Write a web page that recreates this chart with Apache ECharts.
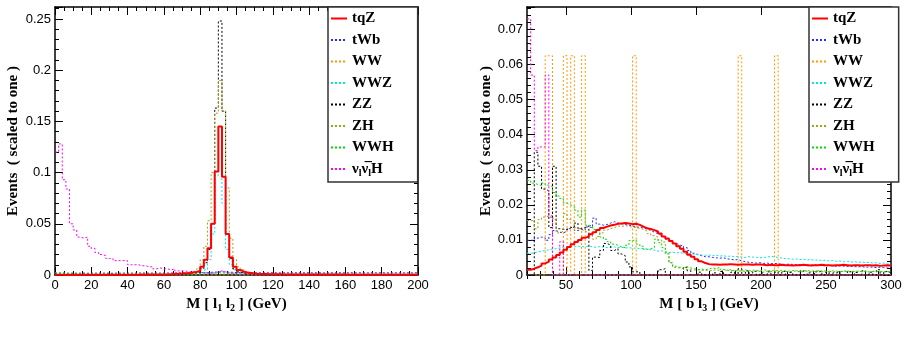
<!DOCTYPE html>
<html>
<head>
<meta charset="utf-8">
<title>tqZ kinematic distributions</title>
<script src="https://cdn.jsdelivr.net/npm/echarts@6/dist/echarts.min.js"></script>
<style>
    html, body { margin: 0; padding: 0; background: #fff; }
    #chart { width: 908px; height: 358px; }
</style>
</head>
<body>
<div id="chart"></div>
<script>

// Histogram binning
// ------------------------------

// left panel: M[l1 l2], 100 bins of 2 GeV from 0
var leftBinStart = 0;
var leftBinWidth = 2;
// right panel: M[b l3], 100 bins of 2.8 GeV from 20
var rightBinStart = 20;
var rightBinWidth = 2.8;

var seriesNames = ['tqZ', 'tWb', 'WW', 'WWZ', 'ZZ', 'ZH', 'WWH', 'nunuH'];

// tick labels
var leftYTicks = [0, 0.05, 0.1, 0.15, 0.2, 0.25];
var leftXTicks = [0, 20, 40, 60, 80, 100, 120, 140, 160, 180, 200];
var rightYTicks = [0, 0.01, 0.02, 0.03, 0.04, 0.05, 0.06, 0.07];
var rightXTicks = [50, 100, 150, 200, 250, 300];
var rightXMinorTicks = [20, 30, 40, 60, 70, 80, 90, 110, 120, 130, 140, 160, 170, 180, 190,
    210, 220, 230, 240, 260, 270, 280, 290];


// Left panel values  M[l1 l2]
// ------------------------------

var leftTqZ = [
    0.0003, 0.0003, 0.0003, 0.0003, 0.0003, 0.0003, 0.0003, 0.0003, 0.0003, 0.0003,
    0.0003, 0.0003, 0.0003, 0.0003, 0.0003, 0.0003, 0.0003, 0.0003, 0.0003, 0.0003,
    0.0003, 0.0003, 0.0003, 0.0004, 0.0003, 0.0004, 0.0004, 0.0005, 0.0005, 0.0005,
    0.0006, 0.0008, 0.001, 0.0012, 0.0014, 0.0017, 0.002, 0.0025, 0.003, 0.004,
    0.008, 0.015, 0.026, 0.05, 0.101, 0.145, 0.096, 0.04, 0.017, 0.008,
    0.005, 0.0035, 0.0025, 0.002, 0.0015, 0.0012, 0.001, 0.0009, 0.0008, 0.0008,
    0.0007, 0.0007, 0.0006, 0.0006, 0.0006, 0.0005, 0.0005, 0.0005, 0.0005, 0.0005,
    0.0004, 0.0004, 0.0004, 0.0004, 0.0004, 0.0004, 0.0004, 0.0004, 0.0004, 0.0004,
    0.0003, 0.0003, 0.0003, 0.0003, 0.0003, 0.0003, 0.0003, 0.0003, 0.0003, 0.0003,
    0.0003, 0.0003, 0.0003, 0.0003, 0.0003, 0.0003, 0.0003, 0.0003, 0.0003, 0.0003
];
var leftTWb = [
    0.0018, 0.0019, 0.0018, 0.0017, 0.0019, 0.0018, 0.0018, 0.0019, 0.0017, 0.0018,
    0.0018, 0.0019, 0.0018, 0.0019, 0.0018, 0.0017, 0.0019, 0.0018, 0.0019, 0.0018,
    0.0019, 0.0018, 0.0019, 0.002, 0.0019, 0.0018, 0.0019, 0.002, 0.0019, 0.0019,
    0.002, 0.0019, 0.002, 0.0021, 0.002, 0.0021, 0.002, 0.0021, 0.0022, 0.0022,
    0.0023, 0.0024, 0.0026, 0.0028, 0.003, 0.0031, 0.003, 0.0028, 0.0026, 0.0024,
    0.0023, 0.0022, 0.0022, 0.0021, 0.0022, 0.0021, 0.0022, 0.0022, 0.0021, 0.0022,
    0.0022, 0.0021, 0.0022, 0.0022, 0.0021, 0.0022, 0.0022, 0.0021, 0.0022, 0.0022,
    0.0021, 0.0022, 0.0022, 0.0021, 0.0022, 0.0022, 0.0021, 0.0022, 0.0022, 0.0021,
    0.0022, 0.0022, 0.0021, 0.0022, 0.0022, 0.0021, 0.0022, 0.0022, 0.0021, 0.0022,
    0.0022, 0.0021, 0.0022, 0.0022, 0.0021, 0.0022, 0.0022, 0.0021, 0.0022, 0.0022
];
var leftWW = [
    0, 0, 0, 0, 0, 0, 0, 0, 0, 0,
    0, 0, 0, 0, 0, 0, 0, 0, 0, 0,
    0, 0, 0, 0, 0, 0, 0, 0, 0, 0,
    0, 0, 0, 0, 0, 0, 0, 0, 0, 0,
    0, 0, 0, 0, 0, 0, 0, 0, 0, 0,
    0, 0, 0, 0, 0, 0, 0, 0, 0, 0,
    0, 0, 0, 0, 0, 0, 0, 0, 0, 0,
    0, 0, 0, 0, 0, 0, 0, 0, 0, 0,
    0, 0, 0, 0, 0, 0, 0, 0, 0, 0,
    0, 0, 0, 0, 0, 0, 0, 0, 0, 0
];
var leftWWZ = [
    0.0004, 0.0004, 0.0004, 0.0004, 0.0004, 0.0004, 0.0004, 0.0004, 0.0004, 0.0004,
    0.0004, 0.0004, 0.0004, 0.0004, 0.0004, 0.0004, 0.0004, 0.0004, 0.0004, 0.0004,
    0.0004, 0.0004, 0.0004, 0.0004, 0.0004, 0.0004, 0.0004, 0.0004, 0.0004, 0.0004,
    0.0005, 0.0005, 0.0006, 0.0006, 0.0007, 0.0008, 0.0009, 0.001, 0.0012, 0.0015,
    0.002, 0.005, 0.015, 0.04, 0.097, 0.125, 0.07, 0.025, 0.01, 0.005,
    0.003, 0.002, 0.0015, 0.0012, 0.001, 0.0009, 0.0008, 0.0007, 0.0006, 0.0006,
    0.0005, 0.0005, 0.0005, 0.0005, 0.0005, 0.0005, 0.0005, 0.0005, 0.0005, 0.0005,
    0.0004, 0.0004, 0.0004, 0.0004, 0.0004, 0.0004, 0.0004, 0.0004, 0.0004, 0.0004,
    0.0004, 0.0004, 0.0004, 0.0004, 0.0004, 0.0004, 0.0004, 0.0004, 0.0004, 0.0004,
    0.0004, 0.0004, 0.0004, 0.0004, 0.0004, 0.0004, 0.0004, 0.0004, 0.0004, 0.0004
];
var leftZZ = [
    0.0002, 0.0002, 0.0002, 0.0002, 0.0002, 0.0002, 0.0002, 0.0002, 0.0002, 0.0002,
    0.0002, 0.0002, 0.0002, 0.0002, 0.0002, 0.0002, 0.0002, 0.0002, 0.0002, 0.0002,
    0.0002, 0.0002, 0.0002, 0.0002, 0.0002, 0.0002, 0.0002, 0.0002, 0.0002, 0.0002,
    0.0003, 0.0003, 0.0004, 0.0005, 0.0006, 0.0008, 0.001, 0.0015, 0.002, 0.003,
    0.006, 0.012, 0.025, 0.05, 0.163, 0.248, 0.16, 0.04, 0.016, 0.006,
    0.003, 0.002, 0.001, 0.0008, 0.0006, 0.0005, 0.0004, 0.0003, 0.0003, 0.0003,
    0.0002, 0.0002, 0.0002, 0.0002, 0.0002, 0.0002, 0.0002, 0.0002, 0.0002, 0.0002,
    0.0002, 0.0002, 0.0002, 0.0002, 0.0002, 0.0002, 0.0002, 0.0002, 0.0002, 0.0002,
    0.0002, 0.0002, 0.0002, 0.0002, 0.0002, 0.0002, 0.0002, 0.0002, 0.0002, 0.0002,
    0.0002, 0.0002, 0.0002, 0.0002, 0.0002, 0.0002, 0.0002, 0.0002, 0.0002, 0.0002
];
var leftZH = [
    0.0003, 0.0003, 0.0003, 0.0003, 0.0003, 0.0003, 0.0003, 0.0003, 0.0003, 0.0003,
    0.0003, 0.0003, 0.0003, 0.0003, 0.0003, 0.0003, 0.0003, 0.0003, 0.0003, 0.0003,
    0.0003, 0.0003, 0.0003, 0.0003, 0.0003, 0.0003, 0.0003, 0.0003, 0.0003, 0.0003,
    0.0004, 0.0005, 0.0006, 0.0007, 0.0009, 0.0011, 0.0014, 0.002, 0.003, 0.006,
    0.015, 0.028, 0.053, 0.1, 0.158, 0.19, 0.16, 0.085, 0.036, 0.015,
    0.008, 0.005, 0.003, 0.002, 0.0015, 0.0012, 0.001, 0.0008, 0.0007, 0.0006,
    0.0004, 0.0004, 0.0004, 0.0004, 0.0004, 0.0004, 0.0004, 0.0004, 0.0004, 0.0004,
    0.0004, 0.0004, 0.0004, 0.0004, 0.0004, 0.0004, 0.0004, 0.0004, 0.0004, 0.0004,
    0.0004, 0.0004, 0.0004, 0.0004, 0.0004, 0.0004, 0.0004, 0.0004, 0.0004, 0.0004,
    0.0004, 0.0004, 0.0004, 0.0004, 0.0004, 0.0004, 0.0004, 0.0004, 0.0004, 0.0004
];
var leftWWH = [
    0.002, 0.0018, 0.0016, 0.0015, 0.0014, 0.0013, 0.0012, 0.0012, 0.0011, 0.0011,
    0.001, 0.001, 0.001, 0.001, 0.001, 0.001, 0.001, 0.001, 0.001, 0.001,
    0.001, 0.001, 0.001, 0.001, 0.001, 0.001, 0.001, 0.001, 0.001, 0.001,
    0.001, 0.001, 0.001, 0.001, 0.001, 0.001, 0.001, 0.001, 0.0011, 0.0011,
    0.0012, 0.0013, 0.0015, 0.0017, 0.002, 0.0021, 0.0019, 0.0016, 0.0013, 0.0012,
    0.001, 0.001, 0.001, 0.001, 0.001, 0.001, 0.001, 0.001, 0.001, 0.001,
    0.001, 0.001, 0.001, 0.001, 0.001, 0.001, 0.001, 0.001, 0.001, 0.001,
    0.001, 0.001, 0.001, 0.001, 0.001, 0.001, 0.001, 0.001, 0.001, 0.001,
    0.001, 0.001, 0.001, 0.001, 0.001, 0.001, 0.001, 0.001, 0.001, 0.001,
    0.001, 0.001, 0.001, 0.001, 0.001, 0.001, 0.001, 0.001, 0.001, 0.001
];
var leftNuNuH = [
    0.12, 0.128, 0.093, 0.084, 0.05, 0.044, 0.037, 0.036, 0.037, 0.028,
    0.026, 0.022, 0.02, 0.019, 0.016, 0.016, 0.014, 0.014, 0.014, 0.014,
    0.01, 0.01, 0.01, 0.009, 0.009, 0.008, 0.008, 0.006, 0.007, 0.006,
    0.006, 0.005, 0.006, 0.004, 0.004, 0.004, 0.003, 0.003, 0.004, 0.003,
    0.002, 0.002, 0.002, 0.002, 0.003, 0.004, 0.003, 0.002, 0.002, 0.001,
    0.001, 0.001, 0.001, 0.001, 0.001, 0.001, 0.001, 0.001, 0.001, 0.001,
    0.0008, 0.0008, 0.0008, 0.0008, 0.0008, 0.0008, 0.0008, 0.0008, 0.0008, 0.0008,
    0.0008, 0.0008, 0.0008, 0.0008, 0.0008, 0.0008, 0.0008, 0.0008, 0.0008, 0.0008,
    0.0008, 0.0008, 0.0008, 0.0008, 0.0008, 0.0008, 0.0008, 0.0008, 0.0008, 0.0008,
    0.0008, 0.0008, 0.0008, 0.0008, 0.0008, 0.0008, 0.0008, 0.0008, 0.0008, 0.0008
];


// Right panel values  M[b l3]
// ------------------------------

var rightTqZ = [
    0.0015, 0.0018, 0.0022, 0.0027, 0.0033, 0.0038, 0.0044, 0.005, 0.0057, 0.0064,
    0.0072, 0.008, 0.0088, 0.0094, 0.01, 0.0106, 0.011, 0.0116, 0.0122, 0.0128,
    0.0134, 0.0138, 0.0141, 0.0143, 0.0146, 0.0147, 0.0148, 0.0147, 0.0145, 0.0146,
    0.0143, 0.0138, 0.0133, 0.0131, 0.0128, 0.0124, 0.0118, 0.011, 0.0104, 0.0097,
    0.009, 0.0082, 0.0075, 0.0066, 0.0058, 0.0052, 0.0045, 0.0039, 0.0034, 0.0031,
    0.003, 0.003, 0.0029, 0.003, 0.003, 0.0031, 0.003, 0.0029, 0.003, 0.003,
    0.003, 0.0029, 0.003, 0.003, 0.0029, 0.0028, 0.0029, 0.0028, 0.0028, 0.0029,
    0.0028, 0.0028, 0.0027, 0.0028, 0.0028, 0.0029, 0.0028, 0.0027, 0.0028, 0.0028,
    0.0029, 0.0028, 0.0028, 0.0027, 0.0028, 0.0028, 0.0029, 0.0028, 0.0027, 0.0028,
    0.0028, 0.0027, 0.0028, 0.0028, 0.0027, 0.0028, 0.0026, 0.0027, 0.0028, 0.0027
];
var rightTWb = [
    0.0099, 0.0099, 0.0105, 0.0108, 0.0106, 0.0099, 0.0115, 0.0127, 0.0122, 0.012,
    0.0125, 0.0132, 0.0137, 0.0127, 0.013, 0.0128, 0.0137, 0.0135, 0.0162, 0.0145,
    0.0142, 0.0144, 0.0148, 0.0152, 0.0148, 0.0146, 0.0144, 0.0142, 0.014, 0.0137,
    0.0136, 0.0134, 0.0131, 0.0127, 0.0122, 0.0118, 0.0113, 0.0108, 0.0102, 0.0096,
    0.009, 0.0085, 0.0084, 0.0078, 0.007, 0.0062, 0.0058, 0.0055, 0.0052, 0.0052,
    0.005, 0.0049, 0.0048, 0.0049, 0.0046, 0.0045, 0.0043, 0.0044, 0.004, 0.0038,
    0.0036, 0.0035, 0.0034, 0.0035, 0.0033, 0.0034, 0.0032, 0.0033, 0.0032, 0.0031,
    0.003, 0.0031, 0.003, 0.0029, 0.003, 0.003, 0.0029, 0.0028, 0.0029, 0.0028,
    0.0027, 0.0026, 0.0027, 0.0026, 0.0025, 0.0026, 0.0025, 0.0024, 0.0025, 0.0024,
    0.0023, 0.0024, 0.0022, 0.0023, 0.0022, 0.0021, 0.0022, 0.0021, 0.002, 0.0021
];
var rightWW = [
    0, 0, 0, 0, 0, 0.0625, 0.0625, 0, 0, 0,
    0.0625, 0, 0.0625, 0, 0, 0.0625, 0, 0, 0, 0,
    0, 0, 0, 0, 0, 0, 0, 0, 0, 0.0625,
    0, 0, 0, 0, 0, 0, 0, 0, 0, 0,
    0, 0, 0, 0, 0, 0, 0, 0, 0, 0,
    0, 0, 0, 0, 0, 0, 0, 0, 0.0625, 0,
    0, 0, 0, 0, 0, 0, 0, 0, 0.0625, 0,
    0, 0, 0, 0, 0, 0, 0, 0, 0, 0,
    0, 0, 0, 0, 0, 0, 0, 0, 0, 0,
    0, 0, 0, 0, 0, 0, 0, 0, 0, 0
];
var rightWWZ = [
    0.0062, 0.0063, 0.0066, 0.0068, 0.007, 0.0072, 0.0074, 0.0075, 0.0077, 0.0079,
    0.008, 0.0081, 0.008, 0.0082, 0.0081, 0.008, 0.0083, 0.008, 0.0079, 0.0081,
    0.008, 0.0078, 0.0079, 0.008, 0.0078, 0.0079, 0.0077, 0.0078, 0.0076, 0.0077,
    0.0075, 0.0076, 0.0074, 0.0072, 0.0071, 0.0068, 0.0069, 0.0066, 0.0064, 0.0065,
    0.0063, 0.0064, 0.0062, 0.006, 0.0061, 0.0059, 0.0058, 0.0057, 0.0056, 0.0057,
    0.0055, 0.0056, 0.0054, 0.0055, 0.0053, 0.0054, 0.0052, 0.0053, 0.0051, 0.005,
    0.0052, 0.0051, 0.005, 0.0049, 0.005, 0.0051, 0.0053, 0.0052, 0.005, 0.0048,
    0.0047, 0.0046, 0.0045, 0.0046, 0.0044, 0.0045, 0.0043, 0.0044, 0.0042, 0.0043,
    0.0041, 0.0042, 0.004, 0.0041, 0.0039, 0.004, 0.0038, 0.0039, 0.0037, 0.0038,
    0.0036, 0.0037, 0.0035, 0.0036, 0.0034, 0.0035, 0.0033, 0.0034, 0.0032, 0.0031
];
var rightZZ = [
    0, 0, 0.035, 0.031, 0.0245, 0.024, 0.0135, 0.031, 0.0132, 0.013,
    0.013, 0.0135, 0.0137, 0.0148, 0.0132, 0.0135, 0.014, 0.0013, 0.0051, 0.005,
    0.007, 0.009, 0.0085, 0.007, 0.0075, 0.006, 0.0055, 0.0037, 0.0023, 0.0009,
    0.0009, 0, 0, 0, 0, 0, 0.0015, 0.0018, 0, 0,
    0, 0, 0, 0.0022, 0.0012, 0, 0, 0.0008, 0, 0,
    0, 0.0006, 0, 0.001, 0, 0, 0.0008, 0, 0.0018, 0,
    0.0012, 0, 0.001, 0, 0.0006, 0, 0.0009, 0, 0.0008, 0,
    0.001, 0, 0.0007, 0, 0, 0.0012, 0, 0.0006, 0, 0.0009,
    0.001, 0, 0.0008, 0, 0.0006, 0.0008, 0, 0, 0.001, 0,
    0.0007, 0, 0.0012, 0, 0.0008, 0, 0.0015, 0, 0.001, 0.0006
];
var rightZH = [
    0.0155, 0.0156, 0.0132, 0.0158, 0.0165, 0.0168, 0.017, 0.0162, 0.012, 0.0125,
    0.0175, 0.0158, 0.0155, 0.0135, 0.013, 0.0125, 0.012, 0.0115, 0.0102, 0.011,
    0.012, 0.0128, 0.0132, 0.0135, 0.014, 0.0138, 0.0141, 0.0139, 0.0136, 0.0135,
    0.0133, 0.013, 0.0125, 0.0118, 0.0112, 0.0108, 0.01, 0.0094, 0.0065, 0.0035,
    0.0022, 0.002, 0.0018, 0.0016, 0.0015, 0.0014, 0.0015, 0.0013, 0.0014, 0.0012,
    0.0013, 0.0015, 0.0012, 0.0014, 0.0013, 0.0016, 0.0012, 0.0014, 0.0013, 0.0015,
    0.0012, 0.0014, 0.0013, 0.0012, 0.0015, 0.0013, 0.0012, 0.0014, 0.0012, 0.0013,
    0.0012, 0.0011, 0.0013, 0.0012, 0.0011, 0.0012, 0.0013, 0.0011, 0.0012, 0.0011,
    0.0012, 0.0011, 0.001, 0.0012, 0.0011, 0.001, 0.0011, 0.0012, 0.001, 0.0011,
    0.001, 0.0011, 0.001, 0.0009, 0.001, 0.0011, 0.001, 0.0009, 0.001, 0.001
];
var rightWWH = [
    0.027, 0.0262, 0.0258, 0.0255, 0.0262, 0.0256, 0.0252, 0.0235, 0.0225, 0.0218,
    0.0205, 0.02, 0.0195, 0.0185, 0.0165, 0.0185, 0.0142, 0.014, 0.013, 0.0125,
    0.0108, 0.0102, 0.0095, 0.0088, 0.0085, 0.008, 0.0078, 0.0085, 0.0098, 0.0101,
    0.0088, 0.0082, 0.0073, 0.0075, 0.0078, 0.0102, 0.0092, 0.0078, 0.006, 0.0035,
    0.0025, 0.0022, 0.002, 0.0024, 0.002, 0.0018, 0.0015, 0.0017, 0.0015, 0.0017,
    0.002, 0.0018, 0.0022, 0.0016, 0.0014, 0.0012, 0.0013, 0.0011, 0.0012, 0.001,
    0.0011, 0.0009, 0.0012, 0.001, 0.0008, 0.0011, 0.001, 0.0012, 0.0009, 0.001,
    0.0011, 0.0009, 0.001, 0.0012, 0.0008, 0.001, 0.0011, 0.0009, 0.001, 0.0012,
    0.0009, 0.001, 0.0011, 0.0008, 0.001, 0.0009, 0.0011, 0.001, 0.0008, 0.001,
    0.0011, 0.0009, 0.001, 0.0008, 0.001, 0.0011, 0.0009, 0.001, 0.0008, 0.0009
];
var rightNuNuH = [
    0.073, 0.057, 0.0355, 0.0365, 0.0365, 0.057, 0.0165, 0, 0, 0.0095,
    0, 0, 0, 0, 0, 0, 0, 0, 0, 0,
    0, 0, 0, 0, 0, 0, 0, 0, 0, 0,
    0, 0, 0, 0, 0, 0, 0, 0, 0, 0,
    0, 0, 0, 0, 0, 0, 0, 0, 0, 0,
    0, 0, 0, 0, 0, 0, 0, 0, 0, 0,
    0, 0, 0, 0, 0, 0, 0, 0, 0, 0,
    0, 0, 0, 0, 0, 0, 0, 0, 0, 0,
    0, 0, 0, 0, 0, 0, 0, 0, 0, 0,
    0, 0, 0, 0, 0, 0, 0, 0, 0, 0
];


// Setup chart
// ------------------------------

var chartElement = document.getElementById('chart');
var chart = echarts.init(chartElement, null, { renderer: 'canvas' });

var serifBold = { fontFamily: 'Liberation Serif', fontWeight: 'bold', color: '#000' };
var subStyle = { fontFamily: 'Liberation Serif', fontWeight: 'bold', fontSize: 10, color: '#000', padding: [9, 0, 0, 0] };

// line look of each sample (ROOT colours)
var styles = {
    tqZ:   { color: '#ff0000', width: 2, type: 'solid', z: 5 },
    tWb:   { color: '#2a2aff', width: 1, type: [2, 2], z: 3 },
    WW:    { color: '#ff9900', width: 1, type: [2, 2], z: 3 },
    WWZ:   { color: '#00e5e5', width: 1, type: [2, 2], z: 3 },
    ZZ:    { color: '#000000', width: 1, type: [2, 2], z: 3 },
    ZH:    { color: '#a3a31a', width: 1, type: [2, 2], z: 3 },
    WWH:   { color: '#00dd00', width: 1, type: [2, 2], z: 3 },
    nunuH: { color: '#ff00ff', width: 1, type: [2, 2], z: 3 }
};

// bin edges + values, drawn as a step outline
var histPoints = function (start, width, values) {
    var pts = [];
    for (var i = 0; i < values.length; i++) {
        pts.push([start + i * width, values[i]]);
    }
    pts.push([start + values.length * width, values[values.length - 1]]);
    return pts;
};

var makeSeries = function (name, values, start, width, gridIdx) {
    var s = styles[name];
    return {
        name: name,
        type: 'line',
        step: 'end',
        xAxisIndex: gridIdx === 0 ? 0 : 2,
        yAxisIndex: gridIdx === 0 ? 0 : 2,
        data: histPoints(start, width, values),
        showSymbol: false,
        symbol: 'none',
        silent: true,
        animation: false,
        z: s.z,
        itemStyle: { color: s.color },
        lineStyle: { color: s.color, width: s.width, type: s.type }
    };
};

var leftValues = [leftTqZ, leftTWb, leftWW, leftWWZ, leftZZ, leftZH, leftWWH, leftNuNuH];
var rightValues = [rightTqZ, rightTWb, rightWW, rightWWZ, rightZZ, rightZH, rightWWH, rightNuNuH];

var seriesData = [];
seriesNames.forEach(function (name, i) {
    seriesData.push(makeSeries(name, leftValues[i], leftBinStart, leftBinWidth, 0));
});
seriesNames.forEach(function (name, i) {
    seriesData.push(makeSeries(name, rightValues[i], rightBinStart, rightBinWidth, 1));
});

var axisLine = { show: true, onZero: false, lineStyle: { color: '#000', width: 1.5 } };
var labelStyle = { color: '#000', fontFamily: 'Liberation Sans', fontSize: 13 };

var legendFormatter = function (name) {
    if (name === 'nunuH') {
        return '{n|\u03bd}{s|l}{n|\u03bd\u0305}{s|l}{n|H}';
    }
    return '{n|' + name + '}';
};

var makeLegend = function (left) {
    return {
        data: seriesNames,
        orient: 'vertical',
        left: left,
        top: 7,
        itemWidth: 16,
        itemHeight: 14,
        itemGap: 6.5,
        padding: [4, 24, 4, 2],
        borderColor: '#333',
        borderWidth: 1.5,
        borderRadius: 0,
        backgroundColor: '#fff',
        selectedMode: false,
        // hide the point marker, keep only the line sample
        itemStyle: { opacity: 0 },
        formatter: legendFormatter,
        textStyle: {
            fontSize: 15,
            fontFamily: 'Liberation Serif',
            fontWeight: 'bold',
            color: '#000',
            rich: {
                n: { fontSize: 15, fontFamily: 'Liberation Serif', fontWeight: 'bold', color: '#000' },
                s: { fontSize: 10, fontFamily: 'Liberation Serif', fontWeight: 'bold', color: '#000', padding: [8, 0, 0, 0] }
            }
        }
    };
};

chart.setOption({
    animation: false,
    backgroundColor: '#fff',

    grid: [
        { left: 55, top: 7, width: 363, height: 268 },
        { left: 527, top: 7, width: 364, height: 268 }
    ],

    legend: [makeLegend(328), makeLegend(809)],

    xAxis: [
        // left, bottom
        {
            type: 'value', gridIndex: 0, position: 'bottom',
            min: leftXTicks[0], max: leftXTicks[leftXTicks.length - 1], interval: 20,
            axisLine: axisLine,
            axisTick: { inside: true, length: 8, lineStyle: { color: '#000' } },
            minorTick: { show: true, splitNumber: 4, length: 4, lineStyle: { color: '#000' } },
            axisLabel: Object.assign({ margin: 4 }, labelStyle),
            splitLine: { show: false },
            name: 'M [ l{s|1} l{s|2} ] (GeV)',
            nameLocation: 'middle',
            nameGap: 16,
            nameTextStyle: Object.assign({ fontSize: 15, rich: { s: subStyle } }, serifBold)
        },
        // left, top
        {
            type: 'value', gridIndex: 0, position: 'top',
            min: leftXTicks[0], max: leftXTicks[leftXTicks.length - 1], interval: 20,
            axisLine: axisLine,
            axisTick: { inside: true, length: 8, lineStyle: { color: '#000' } },
            minorTick: { show: true, splitNumber: 4, length: 4, lineStyle: { color: '#000' } },
            axisLabel: { show: false },
            splitLine: { show: false }
        },
        // right, bottom (major)
        {
            type: 'value', gridIndex: 1, position: 'bottom',
            min: 20, max: 300,
            axisLine: axisLine,
            axisTick: { inside: true, length: 8, customValues: rightXTicks, lineStyle: { color: '#000' } },
            axisLabel: Object.assign({ margin: 4, customValues: rightXTicks }, labelStyle),
            splitLine: { show: false },
            name: 'M [ b l{s|3} ] (GeV)',
            nameLocation: 'middle',
            nameGap: 16,
            nameTextStyle: Object.assign({ fontSize: 15, rich: { s: subStyle } }, serifBold)
        },
        // right, bottom (minor)
        {
            type: 'value', gridIndex: 1, position: 'bottom',
            min: 20, max: 300,
            axisLine: { show: false },
            axisTick: { inside: true, length: 4, customValues: rightXMinorTicks, lineStyle: { color: '#000' } },
            axisLabel: { show: false },
            splitLine: { show: false }
        },
        // right, top (major)
        {
            type: 'value', gridIndex: 1, position: 'top',
            min: 20, max: 300,
            axisLine: axisLine,
            axisTick: { inside: true, length: 8, customValues: rightXTicks, lineStyle: { color: '#000' } },
            axisLabel: { show: false },
            splitLine: { show: false }
        },
        // right, top (minor)
        {
            type: 'value', gridIndex: 1, position: 'top',
            min: 20, max: 300,
            axisLine: { show: false },
            axisTick: { inside: true, length: 4, customValues: rightXMinorTicks, lineStyle: { color: '#000' } },
            axisLabel: { show: false },
            splitLine: { show: false }
        }
    ],

    yAxis: [
        // left panel, left side
        {
            type: 'value', gridIndex: 0, position: 'left',
            min: leftYTicks[0], max: 0.2617, interval: 0.05,
            axisLine: axisLine,
            axisTick: { inside: true, length: 8, lineStyle: { color: '#000' } },
            minorTick: { show: true, splitNumber: 5, length: 4, lineStyle: { color: '#000' } },
            axisLabel: Object.assign({ margin: 4, showMaxLabel: false }, labelStyle),
            splitLine: { show: false },
            name: 'Events  ( scaled to one )',
            nameLocation: 'middle',
            nameGap: 34,
            nameRotate: 90,
            nameTextStyle: Object.assign({ fontSize: 15 }, serifBold)
        },
        // left panel, right side
        {
            type: 'value', gridIndex: 0, position: 'right',
            min: leftYTicks[0], max: 0.2617, interval: 0.05,
            axisLine: axisLine,
            axisTick: { inside: true, length: 8, lineStyle: { color: '#000' } },
            minorTick: { show: true, splitNumber: 5, length: 4, lineStyle: { color: '#000' } },
            axisLabel: { show: false },
            splitLine: { show: false }
        },
        // right panel, left side
        {
            type: 'value', gridIndex: 1, position: 'left',
            min: rightYTicks[0], max: 0.0764, interval: 0.01,
            axisLine: axisLine,
            axisTick: { inside: true, length: 8, lineStyle: { color: '#000' } },
            minorTick: { show: true, splitNumber: 5, length: 4, lineStyle: { color: '#000' } },
            axisLabel: Object.assign({ margin: 4, showMaxLabel: false }, labelStyle),
            splitLine: { show: false },
            name: 'Events  ( scaled to one )',
            nameLocation: 'middle',
            nameGap: 33,
            nameRotate: 90,
            nameTextStyle: Object.assign({ fontSize: 15 }, serifBold)
        },
        // right panel, right side
        {
            type: 'value', gridIndex: 1, position: 'right',
            min: rightYTicks[0], max: 0.0764, interval: 0.01,
            axisLine: axisLine,
            axisTick: { inside: true, length: 8, lineStyle: { color: '#000' } },
            minorTick: { show: true, splitNumber: 5, length: 4, lineStyle: { color: '#000' } },
            axisLabel: { show: false },
            splitLine: { show: false }
        }
    ],

    series: seriesData
});

</script>
</body>
</html>
